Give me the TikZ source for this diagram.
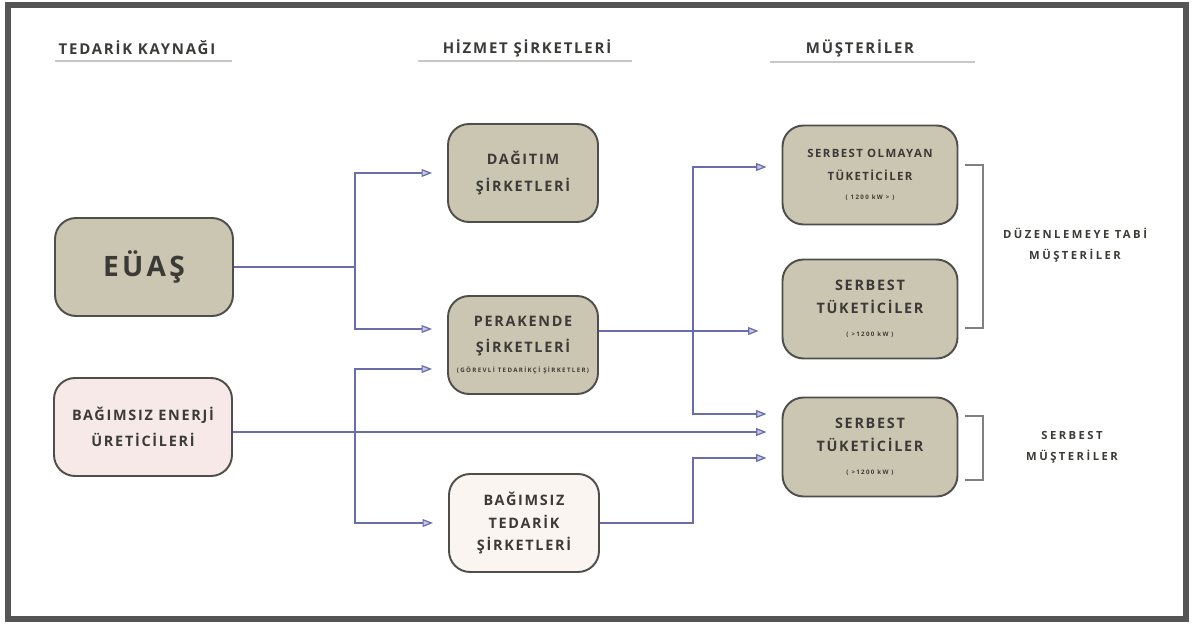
\documentclass[tikz,border=0pt]{standalone}
\usepackage{fontspec}
\setmainfont{Open Sans}
\newfontfamily\spacedfont[LetterSpace=12]{Open Sans}
\newfontfamily\widefont[LetterSpace=22]{Open Sans}
\usetikzlibrary{shapes,arrows,arrows.meta,positioning,calc}

\definecolor{FrameGray}{RGB}{85,85,85}
\definecolor{BoxLine}{RGB}{80,78,74}
\definecolor{TanFill}{RGB}{203,198,178}
\definecolor{PinkFill}{RGB}{246,233,231}
\definecolor{CreamFill}{RGB}{251,245,241}
\definecolor{LinkBlue}{RGB}{105,110,170}
\definecolor{TipFill}{RGB}{200,200,230}
\definecolor{TextGray}{RGB}{60,58,55}
\definecolor{RuleGray}{RGB}{200,200,200}

\begin{document}
\begin{tikzpicture}[x=0.02cm,y=-0.02cm]
			\tikzstyle{Frame}	= [draw=FrameGray, line width=0.13cm]
			\tikzstyle{Head}	= [text=TextGray, font=\spacedfont\bfseries\fontsize{8.5}{10}\selectfont]
			\tikzstyle{Rule}	= [draw=RuleGray, line width=0.6pt]
			\tikzstyle{Box}		= [rectangle, rounded corners=0.42cm, draw=BoxLine, line width=1.1pt, align=center, text=TextGray, font=\spacedfont\bfseries\fontsize{8.2}{15}\selectfont]
			\tikzstyle{Tan}		= [fill=TanFill]
			\tikzstyle{Pink}	= [fill=PinkFill]
			\tikzstyle{Cream}	= [fill=CreamFill]
			\tikzstyle{SrcBox}	= [minimum width=3.56cm, minimum height=1.96cm]
			\tikzstyle{MidBox}	= [minimum width=3.0cm, minimum height=1.96cm]
			\tikzstyle{EndBox}	= [minimum width=3.5cm, minimum height=1.98cm]
			\tikzstyle{Link}	= [draw=LinkBlue, line width=0.7pt, -{Triangle[length=6pt,width=4.5pt,fill=TipFill]}, shorten >=0.3cm]
			\tikzstyle{Bracket}	= [draw=gray, line width=0.9pt]
			\tikzstyle{Note}	= [align=center, text=TextGray, font=\widefont\bfseries\fontsize{6.4}{12}\selectfont]
			
			\useasboundingbox (0,0) rectangle (1195,631);
			\draw [Frame] (8,5) rectangle (1186,619);
			
			% column heads
			\node (kaynak) at (137,48) [Head] {TEDARİK KAYNAĞI};
			\node (hizmet) at (527,48) [Head] {HİZMET ŞİRKETLERİ};
			\node (musteri) at (860,48) [Head] {MÜŞTERİLER};
			\draw [Rule] (55,61) -- (232,61);
			\draw [Rule] (418,61) -- (632,61);
			\draw [Rule] (770,62) -- (975,62);
			
			% sources
			\node (euas) at (144,267) [Box, Tan, SrcBox, font=\spacedfont\bfseries\fontsize{16}{18}\selectfont] {EÜAŞ};
			\node (uretici) at (143,427) [Box, Pink, SrcBox] {BAĞIMSIZ ENERJİ\\ÜRETİCİLERİ};
			
			% service companies
			\node (dagitim) at (523,173) [Box, Tan, MidBox] {DAĞITIM\\ŞİRKETLERİ};
			\node (perakende) at (523,345) [Box, Tan, MidBox] {PERAKENDE\\ŞİRKETLERİ\\[-4pt]{\widefont\fontsize{3.5}{4}\selectfont (GÖREVLİ TEDARİKÇİ ŞİRKETLER)}};
			\node (tedarik) at (524,523) [Box, Cream, MidBox] {BAĞIMSIZ\\[-2pt]TEDARİK\\[-2pt]ŞİRKETLERİ};
			
			% customers
			\node (olmayan) at (870,175) [Box, Tan, EndBox, font=\spacedfont\bfseries\fontsize{6.5}{13}\selectfont] {SERBEST OLMAYAN\\TÜKETİCİLER\\[-2pt]{\widefont\fontsize{3.5}{4}\selectfont ( 1200 kW > )}};
			\node (serbestA) at (870,309) [Box, Tan, EndBox] {SERBEST\\[-2pt]TÜKETİCİLER\\[-2pt]{\widefont\fontsize{3.5}{4}\selectfont ( >1200 kW )}};
			\node (serbestB) at (870,447) [Box, Tan, EndBox] {SERBEST\\[-2pt]TÜKETİCİLER\\[-2pt]{\widefont\fontsize{3.5}{4}\selectfont ( >1200 kW )}};
			
			% junctions
			\coordinate (j1) at (355,267);
			\coordinate (j2) at (355,432);
			\coordinate (j3) at (693,331);
			\coordinate (j4) at (693,523);
			
			\draw [Link] (euas.east) -- (j1) |- (dagitim.west);
			\draw [Link] (j1) |- ($(perakende.west)+(0,-16)$);
			\draw [Link] (uretici.east |- j2) -- (j2 -| serbestB.west);
			\draw [Link] (j2) |- ($(perakende.west)+(0,24)$);
			\draw [Link] (j2) |- (tedarik.west);
			\draw [Link, shorten >=0.46cm] ($(perakende.east)+(0,-14)$) -- ($(serbestA.west)+(0,22)$);
			\draw [Link] (j3) |- ($(olmayan.west)+(0,-8)$);
			\draw [Link] (j3) |- ($(serbestB.west)+(0,-33)$);
			\draw [Link] (tedarik.east) -- (j4) |- ($(serbestB.west)+(0,11)$);
			
			% groups
			\draw [Bracket] (965,165) -- (983,165) -- (983,328) -- (965,328);
			\draw [Bracket] (965,416) -- (983,416) -- (983,480) -- (965,480);
			\node (duzenle) at (1075,245) [Note] {DÜZENLEMEYE TABİ\\MÜŞTERİLER};
			\node (serbestM) at (1072,447) [Note] {SERBEST\\MÜŞTERİLER};
			
\end{tikzpicture}
\end{document}
